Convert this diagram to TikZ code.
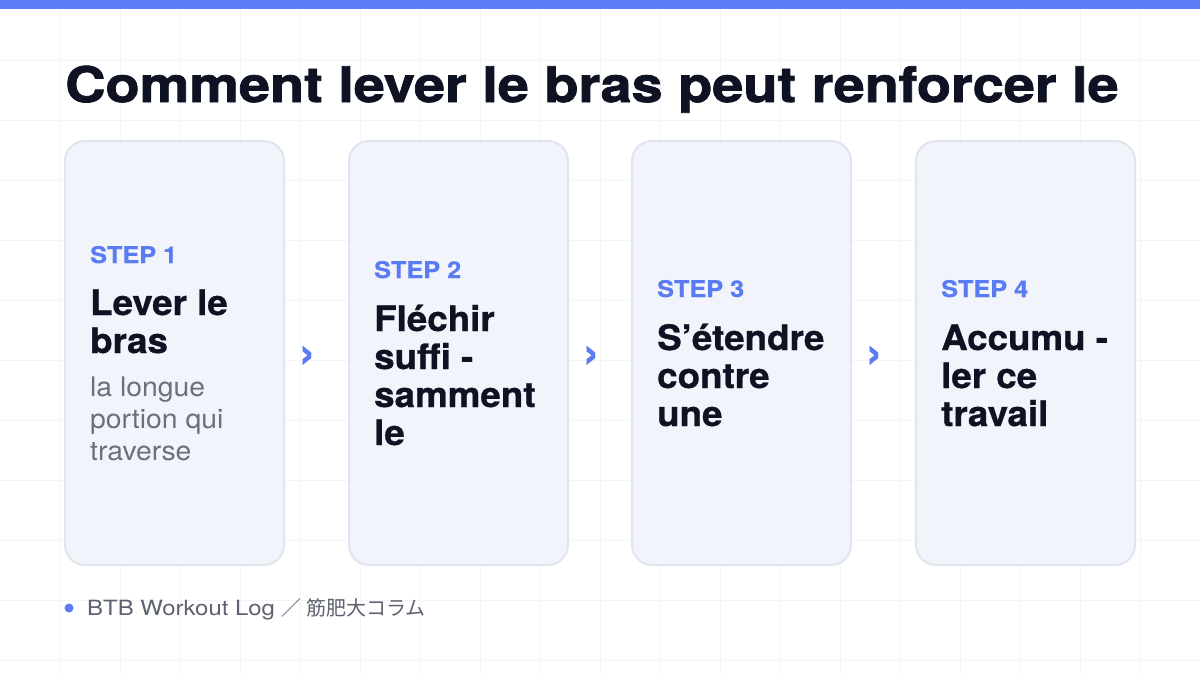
\documentclass[tikz,border=0pt]{standalone}
\usepackage{fontspec}
\setmainfont{TeX Gyre Heros}
\newfontfamily\cjk{Noto Sans CJK JP}
\newfontfamily\headfont{TeX Gyre Heros Bold}[FakeStretch=1.14, FakeBold=1.6]
\newfontfamily\cardfont{TeX Gyre Heros Bold}[FakeStretch=1.05, FakeBold=0.8]
\newfontfamily\labelfont{TeX Gyre Heros Bold}[FakeStretch=1.1, FakeBold=0.4]
\newfontfamily\notefont{TeX Gyre Heros}[FakeStretch=1.05]
\newfontfamily\footfont{TeX Gyre Heros}[FakeStretch=1.14]
\usetikzlibrary{positioning}
\definecolor{topbar}{HTML}{5B7CF6}
\definecolor{gridline}{HTML}{F3F4F7}
\definecolor{cardfill}{HTML}{F2F4FB}
\definecolor{cardline}{HTML}{E1E5F0}
\definecolor{stepblue}{HTML}{5A7CF2}
\definecolor{ink}{HTML}{0F1222}
\definecolor{note}{HTML}{6B6F7E}
\definecolor{footer}{HTML}{5D6170}

\begin{document}
\begin{tikzpicture}[x=1pt,y=-1pt]
    \tikzstyle{every node}=[inner sep=0]
    \tikzstyle{card}=[draw=cardline, line width=2pt, fill=cardfill, rounded corners=20pt, minimum width=219pt, minimum height=424pt]
    \tikzstyle{steplabel}=[anchor=base west, text=stepblue, font=\fontsize{23}{23}\labelfont]
    \tikzstyle{steptitle}=[anchor=base west, align=left, text=ink, font=\fontsize{35}{38}\cardfont]
    \tikzstyle{stepnote}=[anchor=base west, align=left, text=note, font=\fontsize{27}{32}\notefont]
    \tikzstyle{chev}=[text=stepblue, font=\fontsize{46}{46}\labelfont]
    \useasboundingbox (0,0) rectangle (1200,675);
    \fill[white] (0,0) rectangle (1200,675);
    % faint grid behind everything
    \foreach \gx in {60,120,...,1140} \draw[gridline, line width=1pt] (\gx,0) -- (\gx,675);
    \foreach \gy in {60,120,...,660} \draw[gridline, line width=1pt] (0,\gy) -- (1200,\gy);
    \fill[topbar] (0,0) rectangle (1200,9);
    % heading
    \node[anchor=base west, text=ink, font=\fontsize{49}{49}\headfont] (title) at (65,102) {Comment lever le bras peut renforcer le};
    % the four cards
    \node[card] (card1) at (174.5,353) {};
    \node[card] (card2) at (458.5,353) {};
    \node[card] (card3) at (741.5,353) {};
    \node[card] (card4) at (1025.5,353) {};
    % card 1 (base = last line)
    \node[steplabel] (step1) at (90,263) {STEP 1};
    \node[steptitle] (head1) at (90,353) {Lever le\\bras};
    \node[stepnote] (note1) at (90,460) {la longue\\portion qui\\traverse};
    % card 2
    \node[steplabel] (step2) at (374,278) {STEP 2};
    \node[steptitle] (head2) at (374,445) {Fléchir\\suffi -\\samment\\le};
    % card 3
    \node[steplabel] (step3) at (657,297) {STEP 3};
    \node[steptitle] (head3) at (657,426) {S’étendre\\contre\\une};
    % card 4
    \node[steplabel] (step4) at (941,297) {STEP 4};
    \node[steptitle] (head4) at (941,426) {Accumu -\\ler ce\\travail};
    % chevrons between cards
    \node[chev] (arr1) at (307,357) {›};
    \node[chev] (arr2) at (591,357) {›};
    \node[chev] (arr3) at (874,357) {›};
    % footer
    \node[circle, fill=topbar, minimum size=9pt] (dot) at (69,608) {};
    \node[anchor=base west, text=footer, font=\fontsize{21}{21}\footfont] (source) at (87,615) {BTB Workout Log {\fontsize{20}{20}\cjk ／ 筋肥大コラム}};
\end{tikzpicture}
\end{document}
